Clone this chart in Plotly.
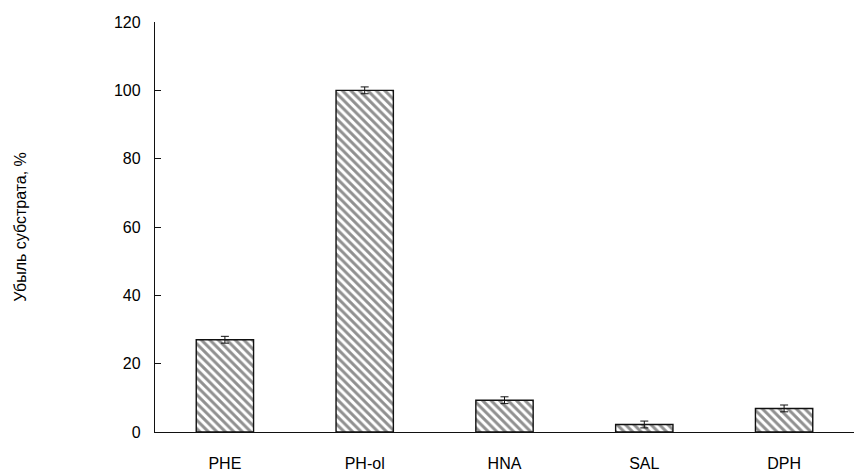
import plotly.graph_objects as go

substrates = ["PHE", "PH-ol", "HNA", "SAL", "DPH"]
loss_pct = [27.0, 100.0, 9.3, 2.2, 6.9]
loss_err = [1.0, 1.0, 1.0, 1.0, 1.0]

fig = go.Figure(
    go.Bar(
        x=substrates,
        y=loss_pct,
        width=0.41,
        marker=dict(
            color="white",
            line=dict(color="#111111", width=1.4),
            pattern=dict(shape="\\", fgcolor="#222222", bgcolor="white",
                         size=6, solidity=0.5),
        ),
        error_y=dict(type="data", array=loss_err, visible=True,
                     color="#111111", thickness=1, width=4),
    )
)

fig.update_layout(
    width=854, height=476,
    margin=dict(l=155, r=0, t=22, b=44),
    plot_bgcolor="white", paper_bgcolor="white",
    showlegend=False,
    font=dict(family="Liberation Sans, Arial, sans-serif", size=16, color="#000000"),
    bargap=0.59,
)
fig.update_xaxes(
    showline=True, linecolor="#111111", linewidth=1.3,
    ticks="", showgrid=False, tickfont=dict(size=16),
    ticklabelstandoff=17,
)
fig.update_yaxes(
    range=[0, 120], dtick=20, showline=True, linecolor="#111111", linewidth=1.3,
    ticks="inside", ticklen=6, tickcolor="#111111", showgrid=False, zeroline=False,
    tickfont=dict(size=16), ticklabelstandoff=10,
    title=dict(text="Убыль субстрата, %", font=dict(size=16), standoff=83),
)

fig.write_html("out.html")
